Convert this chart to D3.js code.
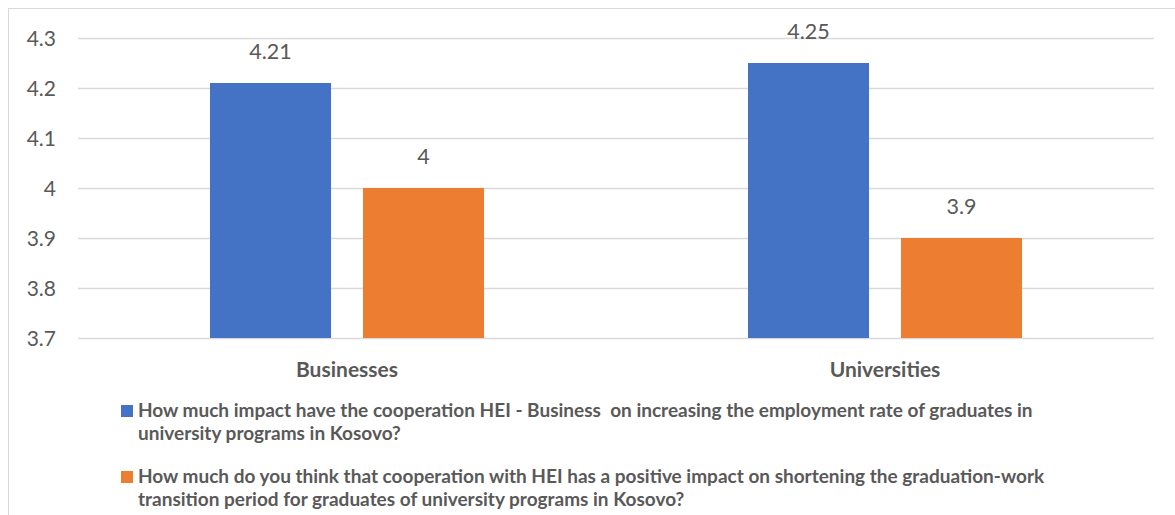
<!DOCTYPE html>
<html>
<head>
<meta charset="utf-8">
<script src="https://cdn.jsdelivr.net/npm/d3@7"></script>
<style>
  body { margin: 0; background: #fff; }
  text { font-family: Lato, "Open Sans", sans-serif; fill: #595959; }
</style>
</head>
<body>
<div id="chart"></div>
<script>
// data
var categories = ["Businesses", "Universities"];
var seriesNames = ["impact", "shortening"];
var impactValues = [4.21, 4.25];
var shorteningValues = [4, 3.9];
var yTicks = [3.7, 3.8, 3.9, 4, 4.1, 4.2, 4.3];
var legendLines = [
    ["How much impact have the cooperation HEI - Business  on increasing the employment rate of graduates in",
     "university programs in Kosovo?"],
    ["How much do you think that cooperation with HEI has a positive impact on shortening the graduation-work",
     "transition period for graduates of university programs in Kosovo?"]
];
var colors = ["#4472C4", "#ED7D31"];

var width = 1175, height = 515;
var margin = {top: 38, left: 78, right: 21, bottom: 177};
var groupWidth = 274;

var svg = d3.select("#chart").append("svg")
    .attr("width", width)
    .attr("height", height);

// chart frame
svg.append("rect")
    .attr("x", 8.5).attr("y", 8.5)
    .attr("width", width).attr("height", height)
    .attr("fill", "none")
    .attr("stroke", "#d9d9d9")
    .attr("stroke-width", 1);

var x0 = d3.scaleBand()
    .domain(categories)
    .range([margin.left, width - margin.right]);

var x1 = d3.scaleBand()
    .domain(seriesNames)
    .range([0, groupWidth])
    .paddingInner(0.209);

var y = d3.scaleLinear()
    .domain([3.7, 4.3])
    .range([height - margin.bottom, margin.top]);

// gridlines
svg.append("g")
    .selectAll("line")
    .data(yTicks)
    .enter().append("line")
    .attr("x1", margin.left)
    .attr("x2", width - margin.right)
    .attr("y1", function(d) { return Math.round(y(d)) + 0.5; })
    .attr("y2", function(d) { return Math.round(y(d)) + 0.5; })
    .attr("stroke", "#d9d9d9")
    .attr("stroke-width", 1.3);

// y axis labels
svg.append("g")
    .selectAll("text")
    .data(yTicks)
    .enter().append("text")
    .attr("x", 56)
    .attr("y", function(d) { return y(d) + 8; })
    .attr("text-anchor", "end")
    .style("font-size", "21px")
    .text(function(d) { return d3.format("")(d); });

var rows = categories.map(function(c, i) {
    return {cat: c, vals: [
        {key: "impact", value: impactValues[i], color: colors[0]},
        {key: "shortening", value: shorteningValues[i], color: colors[1]}
    ]};
});

var groups = svg.append("g")
    .selectAll("g")
    .data(rows)
    .enter().append("g")
    .attr("transform", function(d) {
        return "translate(" + (x0(d.cat) + (x0.bandwidth() - groupWidth) / 2) + ",0)";
    });

groups.selectAll("rect")
    .data(function(d) { return d.vals; })
    .enter().append("rect")
    .attr("x", function(d) { return x1(d.key); })
    .attr("y", function(d) { return y(d.value); })
    .attr("width", x1.bandwidth())
    .attr("height", function(d) { return y(3.7) - y(d.value); })
    .attr("fill", function(d) { return d.color; });

groups.selectAll("text.val")
    .data(function(d) { return d.vals; })
    .enter().append("text")
    .attr("class", "val")
    .attr("x", function(d) { return x1(d.key) + x1.bandwidth() / 2; })
    .attr("y", function(d) { return y(d.value) - 24; })
    .attr("text-anchor", "middle")
    .style("font-size", "21.5px")
    .text(function(d) { return d3.format("")(d.value); });

// category labels
svg.append("g")
    .selectAll("text")
    .data(categories)
    .enter().append("text")
    .attr("x", function(d) { return x0(d) + x0.bandwidth() / 2; })
    .attr("y", 377)
    .attr("text-anchor", "middle")
    .style("font-size", "21px")
    .style("font-weight", "bold")
    .text(function(d) { return d; });

// legend
var legend = svg.append("g")
    .selectAll("g")
    .data(legendLines)
    .enter().append("g")
    .attr("transform", function(d, i) { return "translate(121," + (417 + i * 66) + ")"; });

legend.append("rect")
    .attr("y", -12)
    .attr("width", 12).attr("height", 12)
    .attr("fill", function(d, i) { return colors[i]; });

legend.append("text")
    .style("font-size", "19px")
    .style("font-weight", "bold")
    .selectAll("tspan")
    .data(function(d) { return d; })
    .enter().append("tspan")
    .attr("x", 17)
    .attr("y", function(d, i) { return i * 23; })
    .style("white-space", "pre")
    .text(function(d) { return d; });
</script>
</body>
</html>
